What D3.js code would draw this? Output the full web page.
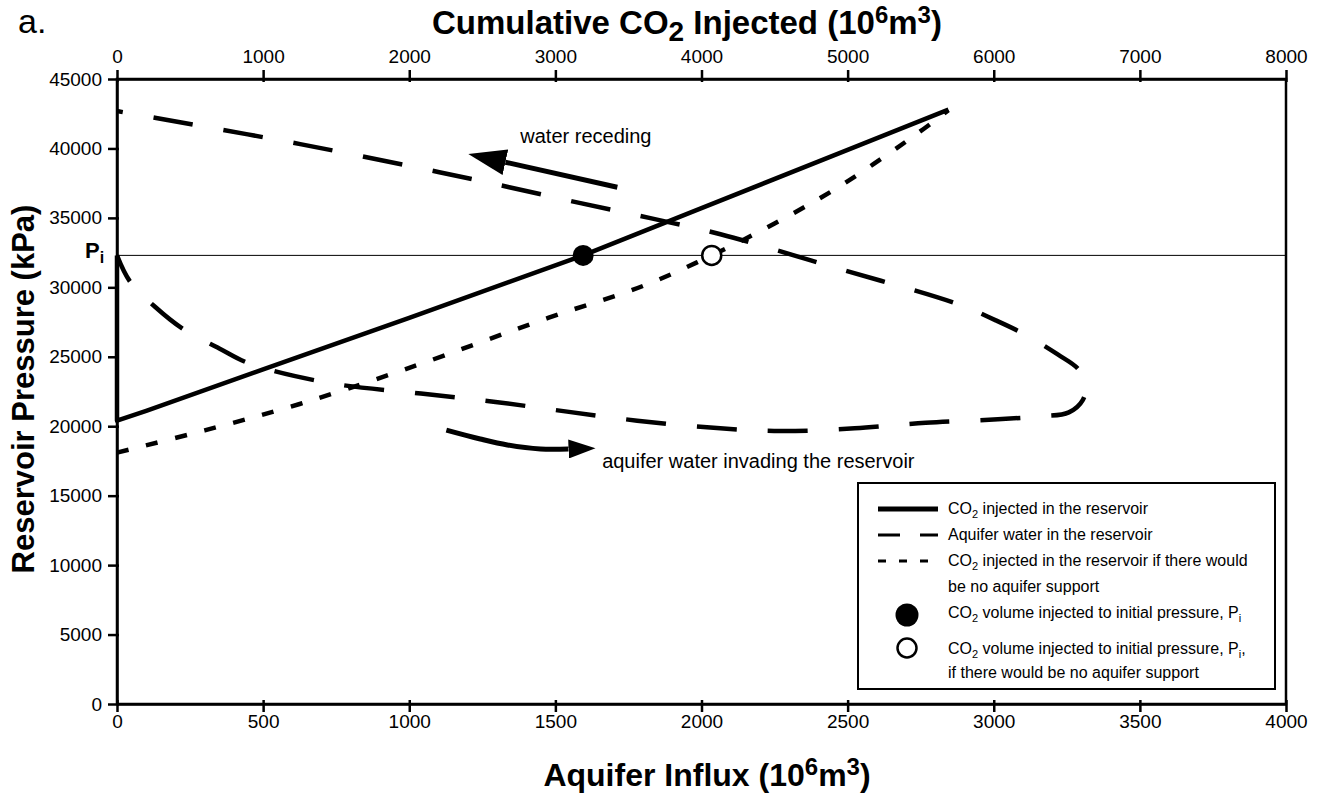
<!DOCTYPE html>
<html>
<head>
<meta charset="utf-8">
<script src="https://cdn.jsdelivr.net/npm/d3@7"></script>
<style>
  body { margin: 0; background: #fff; }
  text { font-family: "Liberation Sans", Arial, sans-serif; fill: #000; }
</style>
</head>
<body>
<div id="chart"></div>
<script>
// tick values
var influxTicks = [0, 500, 1000, 1500, 2000, 2500, 3000, 3500, 4000];
var co2Ticks = [0, 1000, 2000, 3000, 4000, 5000, 6000, 7000, 8000];
var pressureTicks = [0, 5000, 10000, 15000, 20000, 25000, 30000, 35000, 40000, 45000];

var initialPressure = 32300;

// CO2 injected in the reservoir  [cumulative CO2, pressure]
var co2Injected = [[0, 32300], [0, 20400], [200, 21100], [1000, 24100], [2000, 27800],
  [3190, 32300], [4000, 35700], [5000, 39900], [5690, 42800]];

// CO2 injected if no aquifer support  [cumulative CO2, pressure]
var co2NoAquifer = [[0, 18100], [600, 19700], [1250, 21600], [2000, 24200], [2950, 27800],
  [3600, 30100], [4070, 32300], [4500, 34600], [4950, 37300], [5480, 41100], [5690, 42750]];

// aquifer water in the reservoir  [aquifer influx, pressure]
var aquiferWater = [[0, 32300], [45, 30400], [130, 28600], [226, 27000], [350, 25600],
  [455, 24500], [730, 23100], [1040, 22350], [1295, 21750], [1540, 21050], [1780, 20400],
  [2030, 19900], [2270, 19650], [2524, 19850], [2767, 20250], [3014, 20500], [3150, 20700],
  [3257, 21000], [3305, 21900], [3315, 23000], [3290, 24100], [3219, 25170], [3106, 26610],
  [3007, 27620], [2880, 28770], [2442, 31510], [2065, 33820], [1825, 34980], [1586, 36060],
  [1342, 37210], [1103, 38290], [627, 40310], [134, 42190], [0, 42690]];

// points where the initial pressure is reached  [cumulative CO2, pressure]
var pointWithAquifer = [3190, 32300];
var pointNoAquifer = [4070, 32300];

// annotation arrows  [aquifer influx, pressure]
var recedingArrow = [[1712, 37210], [1329, 39010]];
var invadingArrow = [[1127, 19720], [1243, 19080], [1336, 18650], [1449, 18360], [1545, 18360]];
var recedingLabel = [1380, 40390];
var invadingLabel = [1660, 16990];

var width = 1320, height = 797;
var margin = {top: 79, right: 34, bottom: 93, left: 117};

var svg = d3.select("#chart").append("svg").attr("width", width).attr("height", height);

var xInflux = d3.scaleLinear().domain([0, 4000]).range([margin.left, width - margin.right]);
var xCo2 = d3.scaleLinear().domain([0, 8000]).range([margin.left, width - margin.right]);
var y = d3.scaleLinear().domain([0, 45000]).range([height - margin.bottom, margin.top]);

// rich text helper (sub / superscripts)
function rich(sel, parts) {
  var shift = 0;
  parts.forEach(function (p) {
    var target = p.dy || 0;
    var t = sel.append("tspan").text(p.t).attr("dy", target - shift);
    if (p.fs) t.attr("font-size", p.fs);
    shift = target;
  });
}

// axes
var xAxisBottom = svg.append("g").attr("transform", "translate(0," + y(0) + ")")
  .call(d3.axisBottom(xInflux).tickValues(influxTicks).tickSizeInner(8).tickSizeOuter(0).tickPadding(3).tickFormat(d3.format("d")));
xAxisBottom.selectAll(".tick line").attr("y1", -4);

var xAxisTop = svg.append("g").attr("transform", "translate(0," + y(45000) + ")")
  .call(d3.axisTop(xCo2).tickValues(co2Ticks).tickSizeInner(9).tickSizeOuter(0).tickPadding(7).tickFormat(d3.format("d")));
xAxisTop.selectAll(".tick line").attr("y1", 3);

var yAxis = svg.append("g").attr("transform", "translate(" + xInflux(0) + ",0)")
  .call(d3.axisLeft(y).tickValues(pressureTicks).tickSizeInner(9).tickSizeOuter(0).tickPadding(6).tickFormat(d3.format("d")));
yAxis.selectAll(".tick line").attr("x1", 2);

svg.selectAll(".tick text").attr("font-size", 19).attr("font-family", "Liberation Sans, Arial, sans-serif").attr("fill", "#000");
svg.selectAll(".tick line").attr("stroke", "#000").attr("stroke-width", 2.5);
svg.selectAll(".domain").attr("stroke", "#000").attr("stroke-width", 2.5);

// frame
svg.append("rect")
  .attr("x", xInflux(0)).attr("y", y(45000))
  .attr("width", xInflux(4000) - xInflux(0)).attr("height", y(0) - y(45000))
  .attr("fill", "none").attr("stroke", "#000").attr("stroke-width", 2.5);

// initial pressure line
svg.append("line")
  .attr("x1", xInflux(0)).attr("x2", xInflux(4000))
  .attr("y1", y(initialPressure)).attr("y2", y(initialPressure))
  .attr("stroke", "#000").attr("stroke-width", 1);

var piLabel = svg.append("text").attr("x", 85).attr("y", y(initialPressure) + 3)
  .attr("font-size", 22).attr("font-weight", "bold");
rich(piLabel, [{t: "P"}, {t: "i", dy: 5, fs: 16}]);

// series
var lineCo2 = d3.line().x(function (d) { return xCo2(d[0]); }).y(function (d) { return y(d[1]); });
var lineCo2Smooth = d3.line().x(function (d) { return xCo2(d[0]); }).y(function (d) { return y(d[1]); }).curve(d3.curveCatmullRom.alpha(0.5));
var lineInflux = d3.line().x(function (d) { return xInflux(d[0]); }).y(function (d) { return y(d[1]); }).curve(d3.curveCatmullRom.alpha(0.5));

svg.append("path").datum(aquiferWater).attr("d", lineInflux)
  .attr("fill", "none").attr("stroke", "#000").attr("stroke-width", 4.5)
  .attr("stroke-dasharray", "40,31").attr("stroke-dashoffset", 11);

svg.append("path").datum(co2NoAquifer).attr("d", lineCo2Smooth)
  .attr("fill", "none").attr("stroke", "#000").attr("stroke-width", 4.5)
  .attr("stroke-dasharray", "12,18");

svg.append("path").datum(co2Injected).attr("d", lineCo2)
  .attr("fill", "none").attr("stroke", "#000").attr("stroke-width", 4.5)
  .attr("stroke-linejoin", "round");

svg.append("circle").attr("cx", xCo2(pointWithAquifer[0])).attr("cy", y(pointWithAquifer[1]))
  .attr("r", 10.5).attr("fill", "#000");
svg.append("circle").attr("cx", xCo2(pointNoAquifer[0])).attr("cy", y(pointNoAquifer[1]))
  .attr("r", 9.5).attr("fill", "#fff").attr("stroke", "#000").attr("stroke-width", 2.5);

// arrows
var defs = svg.append("defs");
defs.append("marker").attr("id", "headBig").attr("markerUnits", "userSpaceOnUse")
  .attr("viewBox", "0 0 38 26").attr("markerWidth", 38).attr("markerHeight", 26)
  .attr("refX", 0).attr("refY", 13).attr("orient", "auto")
  .append("path").attr("d", "M0,0L38,13L0,26Z").attr("fill", "#000");
defs.append("marker").attr("id", "headSmall").attr("markerUnits", "userSpaceOnUse")
  .attr("viewBox", "0 0 27 19").attr("markerWidth", 27).attr("markerHeight", 19)
  .attr("refX", 0).attr("refY", 9.5).attr("orient", "auto")
  .append("path").attr("d", "M0,0L27,9.5L0,19Z").attr("fill", "#000");

var lineArrow = d3.line().x(function (d) { return xInflux(d[0]); }).y(function (d) { return y(d[1]); }).curve(d3.curveCatmullRom.alpha(0.5));
svg.append("path").datum(recedingArrow).attr("d", lineArrow)
  .attr("fill", "none").attr("stroke", "#000").attr("stroke-width", 5).attr("marker-end", "url(#headBig)");
svg.append("path").datum(invadingArrow).attr("d", lineArrow)
  .attr("fill", "none").attr("stroke", "#000").attr("stroke-width", 5).attr("marker-end", "url(#headSmall)");

svg.append("text").attr("x", xInflux(recedingLabel[0])).attr("y", y(recedingLabel[1]))
  .attr("font-size", 20).text("water receding");
svg.append("text").attr("x", xInflux(invadingLabel[0])).attr("y", y(invadingLabel[1]))
  .attr("font-size", 20).text("aquifer water invading the reservoir");

// titles
var topTitle = svg.append("text").attr("x", 687).attr("y", 34).attr("text-anchor", "middle")
  .attr("font-size", 33).attr("font-weight", "bold");
rich(topTitle, [{t: "Cumulative CO"}, {t: "2", dy: 7, fs: 28}, {t: " Injected (10"}, {t: "6", dy: -11, fs: 24}, {t: "m"}, {t: "3", dy: -11, fs: 24}, {t: ")"}]);

var bottomTitle = svg.append("text").attr("x", 707).attr("y", 786).attr("text-anchor", "middle")
  .attr("font-size", 32).attr("font-weight", "bold");
rich(bottomTitle, [{t: "Aquifer Influx (10"}, {t: "6", dy: -11, fs: 24}, {t: "m"}, {t: "3", dy: -11, fs: 24}, {t: ")"}]);

svg.append("text").attr("transform", "translate(34,389)rotate(-90)")
  .attr("text-anchor", "middle").attr("font-size", 31).attr("font-weight", "bold")
  .text("Reservoir Pressure (kPa)");

svg.append("text").attr("x", 18).attr("y", 33).attr("font-size", 34).text("a.");

// legend
var legend = svg.append("g");
legend.append("rect").attr("x", 858).attr("y", 483).attr("width", 417).attr("height", 206)
  .attr("fill", "#fff").attr("stroke", "#000").attr("stroke-width", 2);

var lx1 = 878, lx2 = 938, tx = 948;
legend.append("line").attr("x1", lx1).attr("x2", lx2).attr("y1", 509).attr("y2", 509)
  .attr("stroke", "#000").attr("stroke-width", 5);
legend.append("line").attr("x1", lx1).attr("x2", lx2).attr("y1", 535).attr("y2", 535)
  .attr("stroke", "#000").attr("stroke-width", 3).attr("stroke-dasharray", "22,20");
legend.append("line").attr("x1", lx1).attr("x2", lx2).attr("y1", 561).attr("y2", 561)
  .attr("stroke", "#000").attr("stroke-width", 3).attr("stroke-dasharray", "8,13");
legend.append("circle").attr("cx", 907).attr("cy", 615).attr("r", 11.5).attr("fill", "#000");
legend.append("circle").attr("cx", 907).attr("cy", 648).attr("r", 9.5)
  .attr("fill", "#fff").attr("stroke", "#000").attr("stroke-width", 2.5);

function legendText(x, yy, parts) {
  var t = legend.append("text").attr("x", x).attr("y", yy).attr("font-size", 16);
  rich(t, parts);
}
var sub2 = {t: "2", dy: 4, fs: 11};
legendText(tx, 514, [{t: "CO"}, sub2, {t: " injected in the reservoir"}]);
legendText(tx, 540, [{t: "Aquifer water in the reservoir"}]);
legendText(tx, 566, [{t: "CO"}, sub2, {t: " injected in the reservoir if there would"}]);
legendText(tx, 592, [{t: "be no aquifer support"}]);
legendText(tx, 618, [{t: "CO"}, sub2, {t: " volume injected to initial pressure, P"}, {t: "i", dy: 4, fs: 11}]);
legendText(tx, 654, [{t: "CO"}, sub2, {t: " volume injected to initial pressure, P"}, {t: "i", dy: 4, fs: 11}, {t: ","}]);
legendText(tx, 678, [{t: " if there would be no aquifer support"}]);
</script>
</body>
</html>
